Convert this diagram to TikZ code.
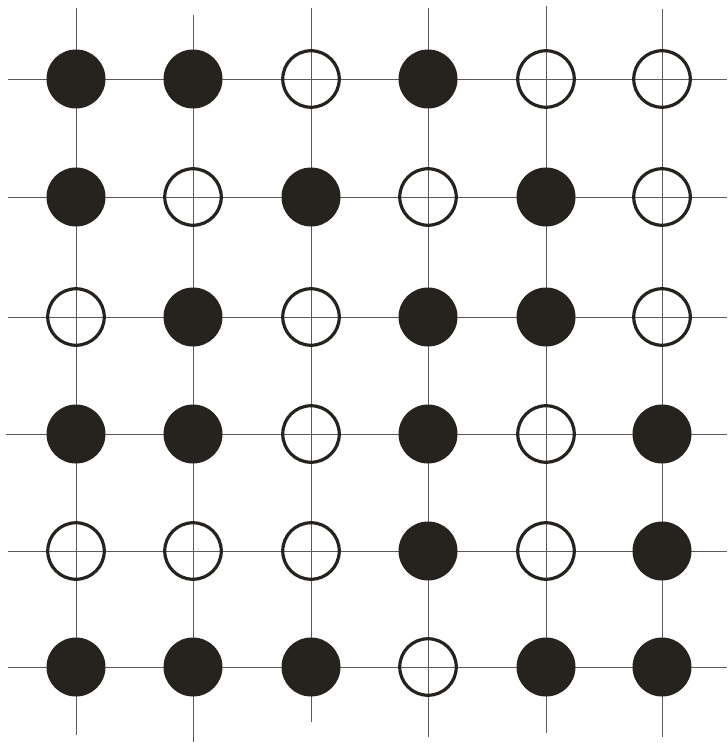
\documentclass[tikz,border=0pt]{standalone}
\usepackage{tikz}
\definecolor{discdark}{HTML}{26231F}
\definecolor{gridgray}{HTML}{5A5A5A}
\tikzset{
  gridline/.style={gridgray,line width=0.9pt},
  filled/.style={circle,fill=discdark,minimum size=59pt,inner sep=0pt},
  hollow/.style={circle,draw=discdark,line width=3.2pt,minimum size=56.5pt,inner sep=0pt},
}

\begin{document}
\begin{tikzpicture}[x=1pt,y=-1pt]
  \useasboundingbox (0,0) rectangle (727,743);
  % grid lines
  \foreach \x/\top/\bot in {76/8/735,193/15/742,311/8/722,428/8/737,546/6/733,662/9/737}
    \draw[gridline] (\x,\top) -- (\x,\bot);
  \foreach \y/\lft in {79/8,197/8,317/8,434/6,551/8,667/8}
    \draw[gridline] (\lft,\y) -- (727,\y);
  % discs, row by row
  \foreach \y/\row [count=\r] in {79/{1,1,0,1,0,0},197/{1,0,1,0,1,0},317/{0,1,0,1,1,0},
      434/{1,1,0,1,0,1},551/{0,0,0,1,0,1},667/{1,1,1,0,1,1}}
    \foreach \f [count=\c] in \row {
      \pgfmathsetmacro{\xc}{{76,193,311,428,546,662}[\c-1]}
      \ifnum\f=1
        \node[filled] (d-\r-\c) at (\xc,\y) {};
      \else
        \node[hollow] (d-\r-\c) at (\xc,\y) {};
      \fi
    };
\end{tikzpicture}
\end{document}
